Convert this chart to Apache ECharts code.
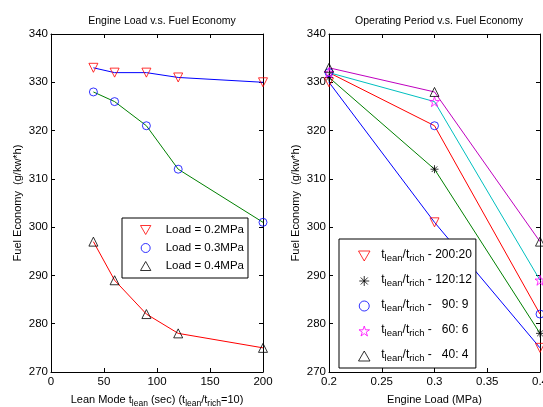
<!DOCTYPE html>
<html>
<head>
<meta charset="utf-8">
<script src="https://cdn.jsdelivr.net/npm/echarts@6/dist/echarts.min.js"></script>
<style>html,body{margin:0;padding:0;background:#fff}#c{width:543px;height:407px}</style>
</head>
<body>
<div id="c"></div>
<script>
// ---- data ----
const leanX = [40, 60, 90, 120, 200];
const load02 = [333, 332, 332, 331, 330];
const load03 = [328, 326, 321, 312, 301];
const load04 = [297, 289, 282, 278, 275];
const leanTicks = [0, 50, 100, 150, 200];

const loadX = [0.2, 0.3, 0.4];
const p200 = [330, 301, 275];
const p120 = [331, 312, 278];
const p90 = [332, 321, 282];
const p60 = [332, 326, 289];
const p40 = [333, 328, 297];
const loadTicks = [0.2, 0.25, 0.3, 0.35, 0.4];

const leftNames = ['Load = 0.2MPa', 'Load = 0.3MPa', 'Load = 0.4MPa'];
const rightRatios = ['200:20', '120:12', '  90: 9', '  60: 6', '  40: 4'];
const rightNames = ['r200', 'r120', 'r90', 'r60', 'r40'];

const FONT = 'Liberation Sans';
const STAR = 'path://M50 0 L61.2 34.6 L97.6 34.5 L68.1 55.9 L79.4 90.5 L50 69 L20.6 90.5 L31.9 55.9 L2.4 34.5 L38.8 34.6 Z';
const AST = 'path://M50 0 L50 100 M0 50 L100 50 M15 15 L85 85 M85 15 L15 85';
const TRI_DOWN = 'path://M0 0 L100 0 L50 87 Z';
const TRI_UP = 'path://M50 0 L100 87 L0 87 Z';
const CIRC = 'path://M0 50 A50 50 0 1 1 100 50 A50 50 0 1 1 0 50 Z';

const zip = (xs, ys) => xs.map((x, i) => [x, ys[i]]);

function mkAxes(gi, min, max, interval) {
  return {
    gridIndex: gi, min: min, max: max, interval: interval,
    axisLine: {show: true, onZero: false, lineStyle: {color: '#000', width: 1}},
    axisTick: {show: true, inside: true, length: 4, lineStyle: {color: '#000'}},
    splitLine: {show: false}
  };
}

const sub = {fontSize: 8.5, fontFamily: FONT, color: '#000', verticalAlign: 'bottom', lineHeight: 10, padding: [6, 0, 0, 0]};
const mainTok = {fontSize: 11, fontFamily: FONT, color: '#000', verticalAlign: 'top', lineHeight: 13};

function xAx(gi, min, max, interval, fmt, name, nameGap) {
  const a = mkAxes(gi, min, max, interval);
  return Object.assign(a, {
    type: 'value', position: 'bottom',
    axisLabel: {show: true, margin: 4, color: '#000', fontFamily: FONT, fontSize: 11.5, formatter: fmt},
    name: name, nameLocation: 'middle', nameGap: nameGap,
    nameTextStyle: {color: '#000', fontFamily: FONT, fontSize: 11, rich: {s: sub, m: mainTok}}
  });
}
function xTop(gi, min, max, interval) {
  const a = mkAxes(gi, min, max, interval);
  return Object.assign(a, {type: 'value', position: 'top', axisLabel: {show: false}});
}
function yAx(gi, name, gap) {
  const a = mkAxes(gi, 270, 340, 10);
  return Object.assign(a, {
    type: 'value', position: 'left',
    axisLabel: {show: true, margin: 3, color: '#000', fontFamily: FONT, fontSize: 11.5},
    name: name, nameLocation: 'middle', nameGap: gap,
    nameTextStyle: {color: '#000', fontFamily: FONT, fontSize: 11}
  });
}
function yRight(gi) {
  const a = mkAxes(gi, 270, 340, 10);
  return Object.assign(a, {type: 'value', position: 'right', axisLabel: {show: false}});
}

function lineS(xi, yi, data, color) {
  return {type: 'line', xAxisIndex: xi, yAxisIndex: yi, data: data, showSymbol: false, symbol: 'none',
    lineStyle: {color: color, width: 1}, itemStyle: {color: color}, z: 2, silent: true, animation: false};
}
function markS(xi, yi, name, data, symbol, color, rotate, size) {
  return {type: 'scatter', name: name, xAxisIndex: xi, yAxisIndex: yi, data: data, symbol: symbol,
    symbolRotate: rotate || 0, symbolSize: size || 9, clip: false,
    itemStyle: {color: 'rgba(0,0,0,0)', borderColor: color, borderWidth: 1}, z: 3, animation: false};
}

const option = {
  backgroundColor: '#fff',
  animation: false,
  title: [
    {text: 'Engine Load v.s. Fuel Economy', left: 157, top: 11, textAlign: 'center',
      textStyle: {fontFamily: FONT, fontSize: 10.5, fontWeight: 'normal', color: '#000'}},
    {text: 'Operating Period v.s. Fuel Economy', left: 434, top: 11, textAlign: 'center',
      textStyle: {fontFamily: FONT, fontSize: 10.5, fontWeight: 'normal', color: '#000'}}
  ],
  grid: [
    {left: 51, top: 34, width: 212, height: 338, outerBoundsMode: 'none', containLabel: false},
    {left: 329, top: 34, width: 211, height: 338, outerBoundsMode: 'none', containLabel: false}
  ],
  xAxis: [
    xAx(0, 0, 200, 50, v => String(v),
      '{m|Lean Mode t}{s|lean}{m| (sec) (t}{s|lean}{m|/t}{s|rich}{m|=10)}', 21),
    xAx(1, 0.2, 0.4, 0.05, v => String(+v.toFixed(2)), 'Engine Load (MPa)', 22),
    xTop(0, 0, 200, 50),
    xTop(1, 0.2, 0.4, 0.05)
  ],
  yAxis: [
    yAx(0, 'Fuel Economy  (g/kw*h)', 28),
    yAx(1, 'Fuel Economy  (g/kw*h)', 28),
    yRight(0),
    yRight(1)
  ],
  legend: [
    {data: [{name: leftNames[0], icon: TRI_DOWN}, {name: leftNames[1], icon: CIRC}, {name: leftNames[2], icon: TRI_UP}],
      orient: 'vertical', left: 122, top: 218, selectedMode: false, symbolKeepAspect: true,
      backgroundColor: '#fff', borderColor: '#000', borderWidth: 1, padding: [6, 4, 6, 18],
      itemWidth: 30, itemHeight: 9, itemGap: 6,
      itemStyle: {borderWidth: 1},
      textStyle: {fontFamily: FONT, fontSize: 11.5, color: '#000'}},
    {data: [{name: rightNames[0], icon: TRI_DOWN}, {name: rightNames[1], icon: AST}, {name: rightNames[2], icon: CIRC},
            {name: rightNames[3], icon: STAR}, {name: rightNames[4], icon: TRI_UP}],
      orient: 'vertical', left: 339, top: 239, selectedMode: false, symbolKeepAspect: true,
      backgroundColor: '#fff', borderColor: '#000', borderWidth: 1, padding: [6, 4, 5, 19],
      itemWidth: 24, itemHeight: 10, itemGap: 7,
      itemStyle: {borderWidth: 1},
      formatter: function (n) {
        const r = rightRatios[rightNames.indexOf(n)];
        return '{m|t}{s|lean}{m|/t}{s|rich}{m| - ' + r + '}';
      },
      textStyle: {fontFamily: FONT, fontSize: 12, color: '#000',
        rich: {m: {fontSize: 12, fontFamily: FONT, color: '#000', verticalAlign: 'top', lineHeight: 14},
               s: {fontSize: 9.5, fontFamily: FONT, color: '#000', verticalAlign: 'bottom', lineHeight: 11, padding: [8, 0, 0, 0]}}}}
  ],
  series: [
    lineS(0, 0, zip(leanX, load02), '#0000ff'),
    lineS(0, 0, zip(leanX, load03), '#008000'),
    lineS(0, 0, zip(leanX, load04), '#ff0000'),
    markS(0, 0, leftNames[0], zip(leanX, load02), 'triangle', '#ff0000', 180),
    markS(0, 0, leftNames[1], zip(leanX, load03), 'circle', '#0000ff', 0, 8),
    markS(0, 0, leftNames[2], zip(leanX, load04), 'triangle', '#000000', 0),

    lineS(1, 1, zip(loadX, p200), '#0000ff'),
    lineS(1, 1, zip(loadX, p120), '#008000'),
    lineS(1, 1, zip(loadX, p90), '#ff0000'),
    lineS(1, 1, zip(loadX, p60), '#00bfbf'),
    lineS(1, 1, zip(loadX, p40), '#bf00bf'),
    markS(1, 1, rightNames[0], zip(loadX, p200), 'triangle', '#ff0000', 180),
    markS(1, 1, rightNames[1], zip(loadX, p120), AST, '#000000', 0, 8),
    markS(1, 1, rightNames[2], zip(loadX, p90), 'circle', '#0000ff', 0, 8),
    markS(1, 1, rightNames[3], zip(loadX, p60), STAR, '#ff00ff', 0, 10),
    markS(1, 1, rightNames[4], zip(loadX, p40), 'triangle', '#000000', 0)
  ]
};
const chart = echarts.init(document.getElementById('c'), null, {renderer: 'canvas'});
chart.setOption(option);
</script>
</body>
</html>
